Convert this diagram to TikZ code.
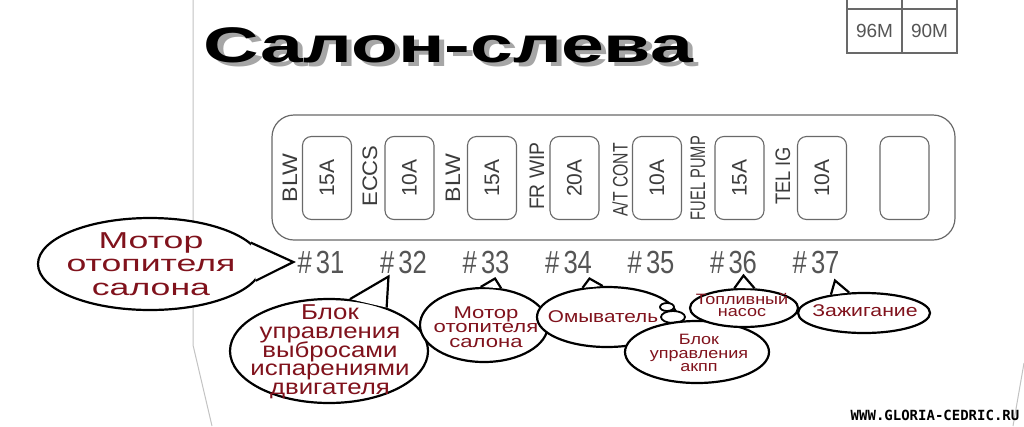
\documentclass[tikz,border=0pt]{standalone}
\usepackage{fontspec}
\setmainfont{Liberation Sans}
\newfontfamily\wmfont{DejaVu Sans Mono}
\usetikzlibrary{shapes.geometric, calc}

\definecolor{boxline}{RGB}{105,105,105}
\definecolor{labelgray}{RGB}{60,60,60}
\definecolor{numgray}{RGB}{85,85,85}
\definecolor{calloutred}{RGB}{128,18,28}
\definecolor{faintline}{RGB}{195,195,195}

\newcommand{\squeeze}[2]{\scalebox{#1}[1]{#2}}
\newcommand{\fusenum}[1]{\scalebox{0.8}[1]{\#\,#1}}
\newcommand{\tightlines}{\lineskiplimit=-30pt\relax}
\newcommand{\wide}[1]{\addfontfeatures{FakeStretch=#1}}
\newcommand{\heading}{\rlap{\kern3.5pt\raisebox{-4pt}{\color{black!35}Салон-слева}}Салон-слева}

\tikzset{
  title/.style = {anchor=base, inner sep=0, font=\fontsize{50}{50}\selectfont\bfseries},
  panel/.style = {draw=boxline, line width=1.2, rounded corners=22},
  fuse/.style = {draw=boxline, line width=1.1, rounded corners=9, rotate=90,
    minimum width=83, minimum height=49, inner sep=0, text=labelgray,
    font=\fontsize{21}{21}\selectfont},
  fuselabel/.style = {rotate=90, inner sep=0, text=labelgray, font=\fontsize{21}{21}\selectfont},
  fusenumber/.style = {inner sep=0, text=numgray, font=\fontsize{32}{32}\selectfont},
  cell/.style = {inner sep=0, text=numgray, font=\fontsize{19}{19}\selectfont},
  callout/.style = {ellipse, draw=black, line width=2.2, fill=white, inner sep=0},
  callouttext/.style = {align=center, inner sep=0, text=calloutred},
  tail/.style = {draw=black, line width=2.2, fill=white, line join=miter},
  thought/.style = {ellipse, draw=black, line width=1.8, fill=white, inner sep=0},
  faint/.style = {draw=faintline, line width=1},
  watermark/.style = {inner sep=0, font=\wmfont\bfseries\fontsize{14}{14}\selectfont},
}

\begin{document}
\begin{tikzpicture}[x=1pt, y=-1pt]
  \path[use as bounding box, fill=white] (0,0) rectangle (1024,426);

  % page edges
  \draw[faint] (193,0) -- (193,345) -- (212,426);
  \draw[faint] (1024,363) -- (1013,426);

  % heading
  \node[title] (title) at (448.5,62) {\squeeze{1.54}{\heading}};

  % relay table
  \draw[boxline, line width=1.1] (847,0) -- (847,53) -- (957,53) -- (957,0);
  \draw[boxline, line width=1.1] (847,9) -- (957,9);
  \draw[boxline, line width=1.1] (902,0) -- (902,53);
  \node[cell] (r96) at (874.5,31) {96M};
  \node[cell] (r90) at (929.5,31) {90M};

  % fuse block
  \draw[panel] (272,115) rectangle (955,240);
  \node[fuse] (f31) at (327,178) {15A};
  \node[fuse] (f32) at (409.5,178) {10A};
  \node[fuse] (f33) at (492,178) {15A};
  \node[fuse] (f34) at (574.5,178) {20A};
  \node[fuse] (f35) at (657,178) {10A};
  \node[fuse] (f36) at (739.5,178) {15A};
  \node[fuse] (f37) at (822,178) {10A};
  \node[fuse] (spare) at (904.5,178) {};

  \node[fuselabel] (l31) at (290,178) {\squeeze{1.1}{BLW}};
  \node[fuselabel] (l32) at (370,176) {\squeeze{1.05}{ECCS}};
  \node[fuselabel] (l33) at (453,178) {\squeeze{1.1}{BLW}};
  \node[fuselabel] (l34) at (537,176) {\squeeze{0.92}{FR WIP}};
  \node[fuselabel] (l35) at (620,180) {\squeeze{0.75}{A/T CONT}};
  \node[fuselabel] (l36) at (698,178) {\squeeze{0.7}{FUEL PUMP}};
  \node[fuselabel] (l37) at (783,176) {\squeeze{0.87}{TEL IG}};

  \node[fusenumber] (n31) at (321,262) {\fusenum{31}};
  \node[fusenumber] (n32) at (403.5,262) {\fusenum{32}};
  \node[fusenumber] (n33) at (486,262) {\fusenum{33}};
  \node[fusenumber] (n34) at (568.5,262) {\fusenum{34}};
  \node[fusenumber] (n35) at (651,262) {\fusenum{35}};
  \node[fusenumber] (n36) at (733.5,262) {\fusenum{36}};
  \node[fusenumber] (n37) at (816,262) {\fusenum{37}};

  % callouts
  \node[callout, minimum width=224, minimum height=92] (c31) at (150,264) {};
  \draw[tail] (c31.12) -- ($(n31.west)+(-4,0)$) -- (c31.-9);
  \node[callouttext, font=\fontsize{23}{23.5}\selectfont\wide{1.55}\tightlines] (t31) at (151,264)
    {Мотор\\отопителя\\салона};

  \node[callout, minimum width=198, minimum height=104] (c32) at (329,351) {};
  \draw[tail] (c32.68) -- ($(n32.south)+(-15,3)$) -- (c32.37);
  \node[callouttext, font=\fontsize{21.5}{18.7}\selectfont\wide{1.2}\tightlines] (t32) at (330,352)
    {Блок\\управления\\выбросами\\испарениями\\двигателя};

  \node[callout, minimum width=128, minimum height=74] (c33) at (484,325) {};
  \draw[tail] (c33.95) -- ($(n33.south)+(9,5)$) -- (c33.65);
  \node[callouttext, font=\fontsize{17}{14.5}\selectfont\wide{1.3}\tightlines] (t33) at (486,327)
    {Мотор\\отопителя\\салона};

  \node[callout, minimum width=140, minimum height=60] (c34) at (607,317) {};
  \draw[tail] (c34.130) -- ($(n34.south)+(21,5)$) -- (c34.98);
  \node[callouttext, font=\fontsize{17}{17}\selectfont\wide{1.22}] (t34) at (603,317) {Омыватель};

  \node[thought, minimum width=14, minimum height=8] (b1) at (667,307) {};
  \node[thought, minimum width=24, minimum height=12] (b2) at (673,317) {};

  \node[callout, minimum width=144, minimum height=62] (c35) at (697,352) {};
  \node[callouttext, font=\fontsize{15}{13.5}\selectfont\wide{1.2}\tightlines] (t35) at (699,353)
    {Блок\\управления\\акпп};

  \node[callout, minimum width=108, minimum height=38] (c36) at (744,308) {};
  \draw[tail] (c36.116) -- ($(n36.south)+(10,2)$) -- (c36.62);
  \node[callouttext, font=\fontsize{15}{12}\selectfont\wide{1.2}\tightlines] (t36) at (742,305)
    {Топливный\\насос};

  \node[callout, minimum width=132, minimum height=40] (c37) at (864,313) {};
  \draw[tail] (c37.151) -- ($(n37.south)+(19,7)$) -- (c37.126);
  \node[callouttext, font=\fontsize{17}{17}\selectfont\wide{1.25}] (t37) at (865,311) {Зажигание};

  \node[watermark] (site) at (935,415) {WWW.GLORIA-CEDRIC.RU};
\end{tikzpicture}
\end{document}
